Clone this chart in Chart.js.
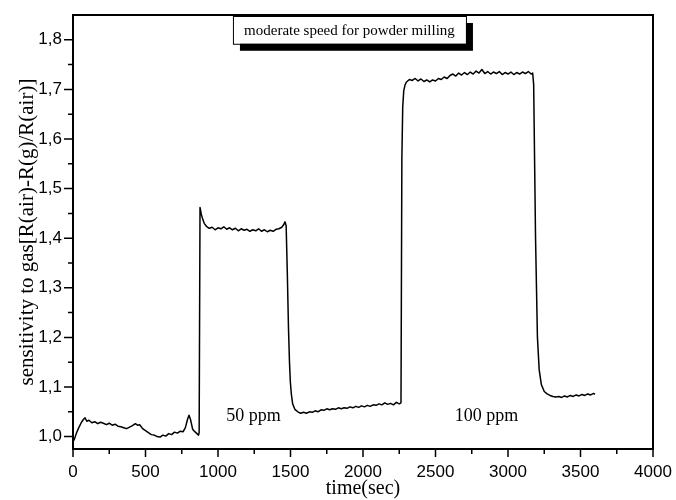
<!DOCTYPE html>
<html>
<head>
<meta charset="utf-8">
<script src="https://cdn.jsdelivr.net/npm/chart.js@4/dist/chart.umd.min.js"></script>
<style>
  html, body { margin: 0; padding: 0; background: #fff; }
  #wrap { width: 676px; height: 500px; }
</style>
</head>
<body>
<div id="wrap"><canvas id="sensorChart" width="676" height="500"></canvas></div>
<script>
// measured response curve (time in seconds, sensitivity)
var timeSec = [
    0, 10, 25, 40, 55, 70, 83, 95, 110, 130, 150, 170, 190, 210, 230, 250, 270, 290, 310, 330,
    350, 370, 390, 410, 430, 445, 460, 480, 500, 520, 540, 560, 580, 600, 620, 640, 660, 680, 700, 720,
    740, 760, 775, 790, 800, 810, 825, 840, 855, 866, 870, 876,
    885, 895, 905, 920, 940, 960, 980, 1000, 1020, 1040, 1060, 1080, 1100, 1120, 1140, 1160, 1180, 1200,
    1220, 1240, 1260, 1280, 1300, 1320, 1340, 1360, 1380, 1400, 1420, 1440, 1455, 1462,
    1470, 1478, 1486, 1493, 1499, 1506, 1515, 1530,
    1550, 1570, 1590, 1610, 1630, 1650, 1670, 1690, 1710, 1730, 1750, 1770, 1790, 1810, 1830, 1850,
    1870, 1890, 1910, 1930, 1950, 1970, 1990, 2010, 2030, 2050, 2070, 2090, 2110, 2130, 2150, 2170,
    2190, 2210, 2230, 2250, 2262,
    2268, 2274, 2281, 2290, 2300,
    2320, 2340, 2360, 2380, 2400, 2420, 2440, 2460, 2480, 2500, 2520, 2540, 2560, 2580, 2600, 2620,
    2640, 2660, 2680, 2700, 2720, 2740, 2760, 2780, 2800, 2820, 2840, 2860, 2880, 2900, 2920, 2940,
    2960, 2980, 3000, 3020, 3040, 3060, 3080, 3100, 3120, 3140, 3160, 3170,
    3177, 3190, 3203, 3215, 3230, 3250, 3270, 3290, 3310,
    3330, 3350, 3370, 3390, 3410, 3430, 3450, 3470, 3490, 3510, 3530, 3550, 3570, 3590, 3600
];
var sensitivity = [
    0.990, 0.995, 1.008, 1.018, 1.027, 1.034, 1.038, 1.031, 1.033, 1.028, 1.030, 1.026, 1.029, 1.027, 1.024, 1.027, 1.023, 1.025, 1.021, 1.020,
    1.018, 1.016, 1.019, 1.022, 1.026, 1.023, 1.024, 1.016, 1.012, 1.008, 1.004, 1.003, 1.000, 0.999, 1.003, 1.001, 1.006, 1.004, 1.009, 1.007,
    1.011, 1.010, 1.018, 1.035, 1.043, 1.035, 1.015, 1.010, 1.006, 1.003, 1.008, 1.462,
    1.448, 1.438, 1.430, 1.424, 1.420, 1.422, 1.417, 1.421, 1.419, 1.423, 1.418, 1.421, 1.417, 1.420, 1.415, 1.419, 1.416, 1.418,
    1.414, 1.417, 1.415, 1.419, 1.414, 1.417, 1.413, 1.416, 1.414, 1.418, 1.419, 1.422, 1.428, 1.433,
    1.425, 1.330, 1.220, 1.150, 1.110, 1.085, 1.066, 1.055,
    1.050, 1.047, 1.049, 1.047, 1.050, 1.049, 1.052, 1.050, 1.054, 1.053, 1.056, 1.054, 1.056, 1.055, 1.058, 1.056,
    1.058, 1.057, 1.060, 1.058, 1.061, 1.059, 1.062, 1.060, 1.063, 1.061, 1.064, 1.063, 1.066, 1.064, 1.068, 1.065,
    1.067, 1.064, 1.069, 1.066, 1.068,
    1.560, 1.665, 1.697, 1.709, 1.715,
    1.720, 1.718, 1.722, 1.717, 1.721, 1.716, 1.719, 1.715, 1.719, 1.717, 1.722, 1.720, 1.725, 1.722, 1.728, 1.731,
    1.727, 1.733, 1.729, 1.734, 1.730, 1.735, 1.731, 1.737, 1.733, 1.740, 1.732, 1.736, 1.731, 1.735, 1.732, 1.736,
    1.730, 1.734, 1.731, 1.735, 1.730, 1.734, 1.731, 1.735, 1.732, 1.736, 1.731, 1.733,
    1.710, 1.400, 1.200, 1.135, 1.105, 1.091, 1.086, 1.083, 1.081,
    1.080, 1.081, 1.079, 1.082, 1.080, 1.083, 1.081, 1.084, 1.082, 1.085, 1.083, 1.086, 1.084, 1.087, 1.085
];

// axis ticks
var xMajorTicks = [0, 500, 1000, 1500, 2000, 2500, 3000, 3500, 4000];
var xMinorTicks = [250, 750, 1250, 1750, 2250, 2750, 3250, 3750];
var yMajorTicks = [1.0, 1.1, 1.2, 1.3, 1.4, 1.5, 1.6, 1.7, 1.8];
var yMinorTicks = [1.05, 1.15, 1.25, 1.35, 1.45, 1.55, 1.65, 1.75];

// text placed on the plot (anchors in data units)
var boxLabel = 'moderate speed for powder milling';
var boxRange = { x1: 1103, x2: 2710, y1: 1.848, y2: 1.792 };
var ppmLabels = ['50 ppm', '100 ppm'];
var ppmAt = [[1245, 1.041], [2852, 1.040]];

var ctx = document.getElementById('sensorChart').getContext('2d');

// frame, outward ticks and the text annotations
var decorations = {
    id: 'decorations',
    afterDraw: function(chart) {
        var c = chart.ctx;
        var a = chart.chartArea;
        var xs = chart.scales.x;
        var ys = chart.scales.y;
        c.save();
        c.strokeStyle = '#000';
        c.lineWidth = 2;
        c.strokeRect(a.left, a.top, a.right - a.left, a.bottom - a.top);

        c.lineWidth = 1.5;
        c.beginPath();
        xMajorTicks.forEach(function(v) {
            var px = xs.getPixelForValue(v);
            c.moveTo(px, a.bottom); c.lineTo(px, a.bottom + 8);
        });
        xMinorTicks.forEach(function(v) {
            var px = xs.getPixelForValue(v);
            c.moveTo(px, a.bottom); c.lineTo(px, a.bottom + 5);
        });
        yMajorTicks.forEach(function(v) {
            var py = ys.getPixelForValue(v);
            c.moveTo(a.left, py); c.lineTo(a.left - 9, py);
        });
        yMinorTicks.forEach(function(v) {
            var py = ys.getPixelForValue(v);
            c.moveTo(a.left, py); c.lineTo(a.left - 5, py);
        });
        c.stroke();

        // label box with drop shadow
        var bx1 = xs.getPixelForValue(boxRange.x1);
        var bx2 = xs.getPixelForValue(boxRange.x2);
        var by1 = ys.getPixelForValue(boxRange.y1);
        var by2 = ys.getPixelForValue(boxRange.y2);
        c.fillStyle = '#000';
        c.fillRect(bx1 + 7, by1 + 7, bx2 - bx1, by2 - by1);
        c.fillStyle = '#fff';
        c.fillRect(bx1, by1, bx2 - bx1, by2 - by1);
        c.lineWidth = 1;
        c.strokeRect(bx1 + 0.5, by1 + 0.5, bx2 - bx1, by2 - by1);
        c.fillStyle = '#000';
        c.font = '15px "Liberation Serif", "Times New Roman", serif';
        c.textAlign = 'center';
        c.textBaseline = 'middle';
        c.fillText(boxLabel, (bx1 + bx2) / 2, (by1 + by2) / 2 + 1);

        c.font = '18px "Liberation Serif", "Times New Roman", serif';
        ppmLabels.forEach(function(txt, i) {
            c.fillText(txt, xs.getPixelForValue(ppmAt[i][0]), ys.getPixelForValue(ppmAt[i][1]));
        });
        c.restore();
    }
};

var sensorChart = new Chart(ctx, {
    type: 'line',
    data: {
        datasets: [{
            label: 'sensitivity',
            data: timeSec.map(function(t, i) { return { x: t, y: sensitivity[i] }; }),
            borderColor: '#000',
            borderWidth: 1.5,
            borderJoinStyle: 'round',
            pointRadius: 0,
            tension: 0,
            fill: false
        }]
    },
    options: {
        responsive: false,
        animation: false,
        layout: { padding: { left: 0, top: 15, right: 23, bottom: 0 } },
        plugins: {
            legend: { display: false },
            tooltip: { enabled: false }
        },
        scales: {
            x: {
                type: 'linear',
                min: 0,
                max: 4000,
                afterBuildTicks: function(scale) {
                    scale.ticks = xMajorTicks.map(function(v) { return { value: v }; });
                },
                afterFit: function(scale) {
                    scale.height = 51;
                    scale.paddingLeft = 0;
                    scale.paddingRight = 0;
                },
                grid: { display: false, drawTicks: false },
                border: { display: false },
                ticks: {
                    autoSkip: false,
                    maxRotation: 0,
                    padding: 13,
                    color: '#000',
                    font: { family: '"Liberation Sans", Arial, sans-serif', size: 17 },
                    callback: function(v) { return String(v); }
                },
                title: {
                    display: true,
                    text: 'time(sec)',
                    color: '#000',
                    padding: { top: 0, bottom: 0 },
                    font: { family: '"Liberation Serif", "Times New Roman", serif', size: 20, lineHeight: 1.1 }
                }
            },
            y: {
                min: 0.975,
                max: 1.85,
                afterBuildTicks: function(scale) {
                    scale.ticks = yMajorTicks.map(function(v) { return { value: v }; });
                },
                afterFit: function(scale) {
                    scale.width = 73;
                    scale.paddingTop = 0;
                    scale.paddingBottom = 0;
                },
                grid: { display: false, drawTicks: false },
                border: { display: false },
                ticks: {
                    padding: 11,
                    color: '#000',
                    font: { family: '"Liberation Sans", Arial, sans-serif', size: 17 },
                    callback: function(v) { return Number(v).toFixed(1).replace('.', ','); }
                },
                title: {
                    display: true,
                    text: 'sensitivity to gas[R(air)-R(g)/R(air)]',
                    color: '#000',
                    padding: { top: 15, bottom: 0 },
                    font: { family: '"Liberation Serif", "Times New Roman", serif', size: 21 }
                }
            }
        }
    },
    plugins: [decorations]
});
</script>
</body>
</html>
